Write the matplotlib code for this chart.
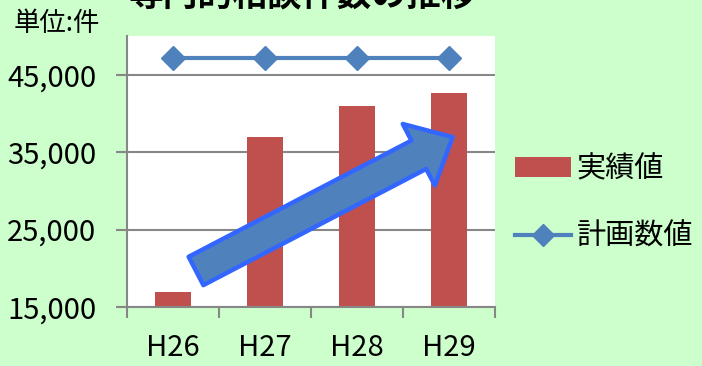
import matplotlib
matplotlib.use("Agg")
import numpy as np
import matplotlib.pyplot as plt
from matplotlib.lines import Line2D
from matplotlib.patches import Patch

plt.rcParams['font.family'] = ['Noto Sans CJK JP', 'DejaVu Sans']

years = ["H26", "H27", "H28", "H29"]
actual = [17000, 36900, 40900, 42700]
plan = [47200, 47200, 47200, 47200]
yticks = [15000, 25000, 35000, 45000]

bg = "#CCFFCC"
bar_c = "#C0504D"
line_c = "#4F81BD"
grid_c = "#878787"

fig = plt.figure(figsize=(7.02, 3.66), dpi=100, facecolor=bg)
ax = fig.add_axes([127/702, 1-307/366, 368/702, 271/366])
ax.set_facecolor("white")

x = np.arange(len(years))
ax.bar(x, actual, width=0.4, color=bar_c, zorder=2)
ax.plot(x, plan, color=line_c, lw=3, marker="D", markersize=12, zorder=3)

ax.set_xlim(-0.5, len(years) - 0.5)
ax.set_ylim(15000, 50000)
ax.set_yticks(yticks)
ax.set_yticklabels([f"{v:,}" for v in yticks], fontsize=21)
ax.set_xticks(x)
ax.set_xticklabels(years, fontsize=21)
ax.set_xticks(np.arange(len(years) + 1) - 0.5, minor=True)
ax.tick_params(axis="x", which="major", length=0, pad=19)
ax.tick_params(axis="x", which="minor", length=8, width=1.5, color=grid_c, direction="out")
ax.tick_params(axis="y", length=8, width=1.5, color=grid_c, pad=14)
ax.grid(axis="y", color=grid_c, lw=1.5, zorder=1)
ax.set_axisbelow(True)
for s in ["top", "right"]:
    ax.spines[s].set_visible(False)
for s in ["left", "bottom"]:
    ax.spines[s].set_color(grid_c)
    ax.spines[s].set_linewidth(1.5)

# trend arrow
ax.annotate("", xy=(0.885, 0.627), xytext=(0.1875, 0.133),
            xycoords="axes fraction", textcoords="axes fraction",
            arrowprops=dict(arrowstyle="simple,head_length=1.1,head_width=2.0,tail_width=0.92",
                            mutation_scale=25, fc=line_c, ec="#3366FF", lw=3.2,
                            shrinkA=0, shrinkB=0), zorder=4)

fig.text(0.43, 1.012, "専門的相談件数の推移", fontsize=25, fontweight="bold",
         ha="center", va="center")
fig.text(0.02, 0.937, "単位:件", fontsize=19, ha="left", va="center")

handles = [Patch(facecolor=bar_c), Line2D([], [], color=line_c, lw=3, marker="D", markersize=11)]
fig.legend(handles, ["実績値", "計画数値"], loc="center left", bbox_to_anchor=(0.733, 0.445),
           frameon=False, fontsize=21, handlelength=1.95, handletextpad=0.17,
           labelspacing=1.3, borderpad=0, borderaxespad=0)

fig.savefig("out.png", dpi=100, facecolor=bg)
